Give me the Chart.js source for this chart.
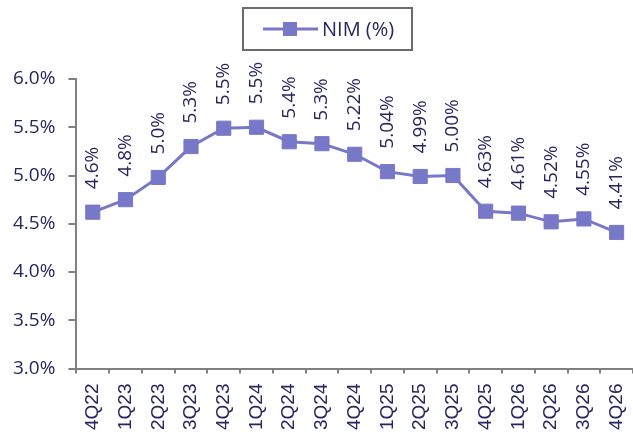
<!DOCTYPE html>
<html>
<head>
<meta charset="utf-8">
<script src="https://cdn.jsdelivr.net/npm/chart.js@4.4.1/dist/chart.umd.min.js"></script>
<style>
  html, body { margin: 0; padding: 0; background: #ffffff; overflow: hidden; width: 633px; height: 436px; }
  #wrap { width: 644px; height: 440px; position: relative; }
</style>
</head>
<body>
<div id="wrap"><canvas id="c"></canvas></div>
<script>
const categories = ['4Q22','1Q23','2Q23','3Q23','4Q23','1Q24','2Q24','3Q24','4Q24','1Q25','2Q25','3Q25','4Q25','1Q26','2Q26','3Q26','4Q26'];
const nimValues = [4.62, 4.75, 4.98, 5.30, 5.49, 5.50, 5.35, 5.33, 5.22, 5.04, 4.99, 5.00, 4.63, 4.61, 4.52, 4.55, 4.41];
const valueLabels = ['4.6%','4.8%','5.0%','5.3%','5.5%','5.5%','5.4%','5.3%','5.22%','5.04%','4.99%','5.00%','4.63%','4.61%','4.52%','4.55%','4.41%'];
const seriesName = 'NIM (%)';
const yMin = 3.0, yMax = 6.0, yStep = 0.5;

const lineColor = '#7878c8';
const textColor = '#252560';
const axisColor = '#808080';
const geoFont = '"Open Sans", "DejaVu Sans", sans-serif';

const dataLabelPlugin = {
  id: 'dataLabels',
  afterDatasetsDraw(chart) {
    const ctx = chart.ctx;
    const meta = chart.getDatasetMeta(0);
    ctx.save();
    ctx.fillStyle = textColor;
    ctx.font = '19px ' + geoFont;
    ctx.textAlign = 'left';
    ctx.textBaseline = 'middle';
    meta.data.forEach((pt, i) => {
      ctx.save();
      ctx.translate(pt.x, pt.y - 23);
      ctx.rotate(-Math.PI / 2);
      ctx.fillText(valueLabels[i], 0, 0);
      ctx.restore();
    });
    ctx.restore();
  }
};

const boxedLegendPlugin = {
  id: 'boxedLegend',
  afterDraw(chart) {
    const ctx = chart.ctx;
    const ds = chart.data.datasets[0];
    const bx = 243, by = 8, bw = 169, bh = 42;
    ctx.save();
    ctx.strokeStyle = '#6a6a6a';
    ctx.lineWidth = 2;
    ctx.strokeRect(bx, by, bw, bh);
    const cy = by + bh / 2;
    ctx.strokeStyle = ds.borderColor;
    ctx.lineWidth = 3;
    ctx.beginPath();
    ctx.moveTo(bx + 20, cy);
    ctx.lineTo(bx + 75, cy);
    ctx.stroke();
    ctx.fillStyle = ds.pointBackgroundColor;
    ctx.fillRect(bx + 47 - 7, cy - 7, 14, 14);
    ctx.fillStyle = textColor;
    ctx.font = '20px ' + geoFont;
    ctx.textAlign = 'left';
    ctx.textBaseline = 'middle';
    ctx.fillText(ds.label, bx + 79, cy + 1);
    ctx.restore();
  }
};

new Chart(document.getElementById('c'), {
  type: 'line',
  data: {
    labels: categories,
    datasets: [{
      label: seriesName,
      data: nimValues,
      borderColor: lineColor,
      backgroundColor: lineColor,
      pointBackgroundColor: lineColor,
      pointBorderColor: lineColor,
      borderWidth: 3,
      pointStyle: 'rect',
      pointRadius: 10,
      pointBorderWidth: 1,
      tension: 0,
      fill: false
    }]
  },
  options: {
    responsive: true,
    maintainAspectRatio: false,
    animation: false,
    layout: { padding: { top: 79, left: 0, right: 0, bottom: 0 } },
    plugins: {
      legend: { display: false },
      tooltip: { enabled: false }
    },
    scales: {
      x: {
        offset: true,
        afterFit(scale) { scale.paddingLeft = 0; scale.paddingRight = 0; },
        grid: { drawOnChartArea: false, drawTicks: true, tickLength: 5, color: axisColor, lineWidth: 2, offset: true },
        border: { color: axisColor, width: 2 },
        ticks: {
          autoSkip: false, minRotation: 90, maxRotation: 90, padding: 10,
          color: textColor, font: { family: '"Liberation Sans", Arial, sans-serif', size: 19 }
        }
      },
      y: {
        min: yMin, max: yMax,
        grid: { drawOnChartArea: false, drawTicks: true, tickLength: 8, color: axisColor, lineWidth: 2 },
        border: { color: axisColor, width: 2 },
        ticks: {
          stepSize: yStep, padding: 13, color: textColor,
          font: { family: geoFont, size: 19 },
          callback: v => v.toFixed(1) + '%'
        }
      }
    }
  },
  plugins: [dataLabelPlugin, boxedLegendPlugin]
});
</script>
</body>
</html>
